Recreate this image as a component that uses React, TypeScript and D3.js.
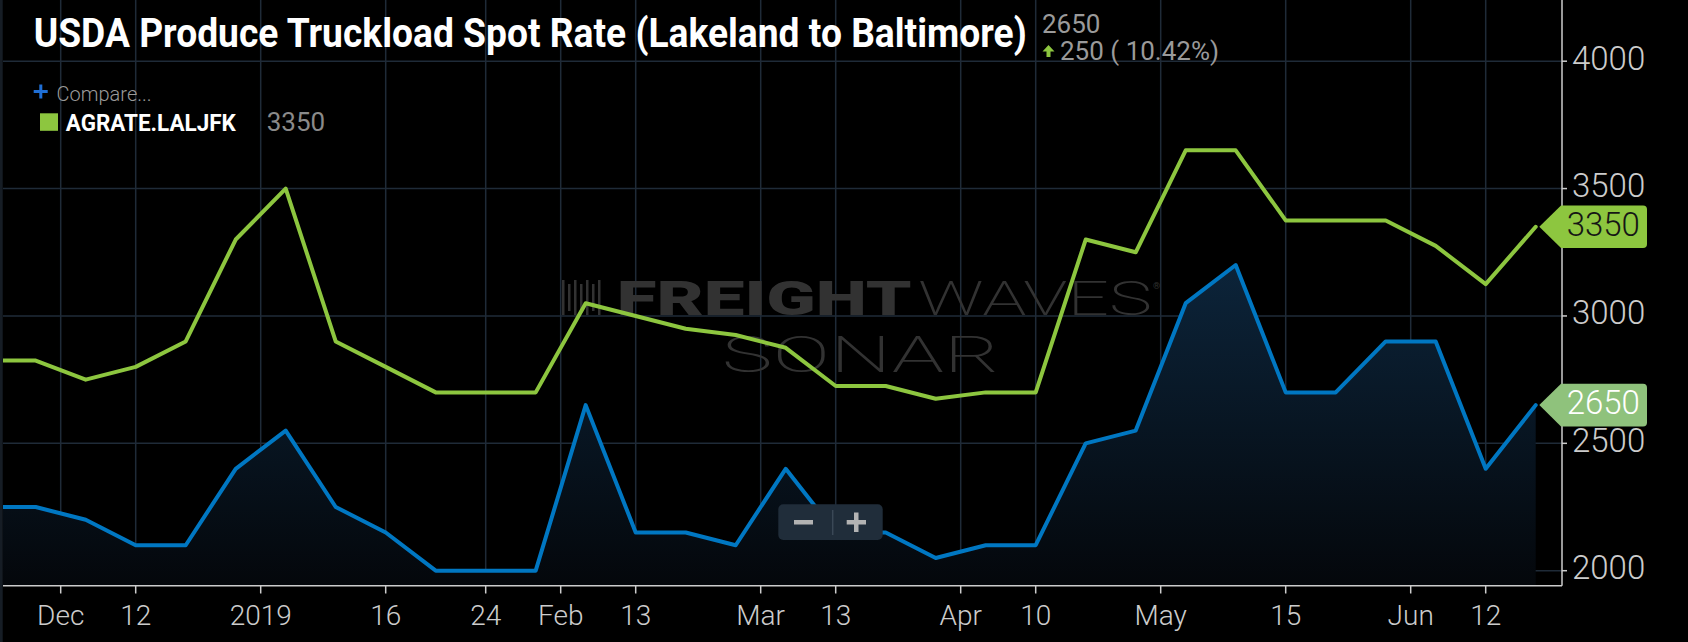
import React from 'react';
import * as d3 from 'd3';

// ---- data ----
const seriesName = 'AGRATE.LALJFK';
const titleText = 'USDA Produce Truckload Spot Rate (Lakeland to Baltimore)';
// weekly observations (first one is the previous observation, just off the left edge)
const greenValues = [2825, 2825, 2750, 2800, 2900, 3300, 3500, 2900, 2800, 2700, 2700, 2700, 3050, 3000, 2950, 2925, 2875, 2725, 2725, 2675, 2700, 2700, 3300, 3250, 3650, 3650, 3375, 3375, 3375, 3275, 3125, 3350];
const blueValues = [2250, 2250, 2200, 2100, 2100, 2400, 2550, 2250, 2150, 2000, 2000, 2000, 2650, 2150, 2150, 2100, 2400, 2150, 2150, 2050, 2100, 2100, 2500, 2550, 3050, 3200, 2700, 2700, 2900, 2900, 2400, 2650];
const xTickLabels = ['Dec', '12', '2019', '16', '24', 'Feb', '13', 'Mar', '13', 'Apr', '10', 'May', '15', 'Jun', '12'];
const xTickPositions = [1.5, 3, 5.5, 8, 10, 11.5, 13, 15.5, 17, 19.5, 21, 23.5, 26, 28.5, 30];
const yTicks = [2000, 2500, 3000, 3500, 4000];

// ---- layout ----
const W = 1688;
const H = 642;
const plotLeft = 3;
const plotRight = 1562;
const plotTop = 0;
const plotBottom = 585.7;

const GREEN = '#8dc63f';
const BLUE = '#0077c2';
const GRID = '#1f2b38';
const AXIS = '#cccccc';

export default function App() {
  const x = d3.scaleLinear().domain([0.346, 31.526]).range([plotLeft, plotRight]);
  const y = d3.scaleLinear().domain([2000, 4000]).range([570.7, 61.2]);

  const line = d3.line<number>().x((_, i) => x(i)).y((d) => y(d)).curve(d3.curveLinear);
  const area = d3.area<number>().x((_, i) => x(i)).y0(plotBottom).y1((d) => y(d));

  const lastGreen = greenValues[greenValues.length - 1];
  const lastBlue = blueValues[blueValues.length - 1];
  const prevBlue = blueValues[blueValues.length - 2];
  const change = lastBlue - prevBlue;
  const pct = ((change / prevBlue) * 100).toFixed(2);

  const flag = (yc: number) => {
    const tip = 1539.3;
    const l = 1561;
    const r = 1647;
    const h = 21.3;
    return `M${tip},${yc} L${l},${yc - h} H${r - 4} Q${r},${yc - h} ${r},${yc - h + 4} V${yc + h - 4} Q${r},${yc + h} ${r - 4},${yc + h} H${l} Z`;
  };

  const gTop = y(d3.max(blueValues) as number);
  const font = 'Roboto, "Noto Sans", sans-serif';

  return (
    <svg width={W} height={H} style={{ position: 'absolute', left: 0, top: 0, display: 'block' }} fontFamily={font}>
      <defs>
        <clipPath id="plotClip">
          <rect x={plotLeft} y={plotTop} width={plotRight - plotLeft} height={plotBottom - plotTop} />
        </clipPath>
        <linearGradient id="areaGrad" gradientUnits="userSpaceOnUse" x1={0} y1={gTop} x2={0} y2={plotBottom}>
          <stop offset="0" stopColor="rgb(12,36,58)" />
          <stop offset="1" stopColor="rgb(4,7,11)" />
        </linearGradient>
      </defs>
      <rect x={0} y={0} width={W} height={H} fill="#000" />
      <rect x={0} y={0} width={2.7} height={H} fill="#161d25" />

      {/* grid */}
      {yTicks.map((t) => (
        <line key={'hg' + t} x1={plotLeft} x2={plotRight} y1={y(t)} y2={y(t)} stroke={GRID} strokeWidth={1.5} />
      ))}
      {xTickPositions.map((p, i) => (
        <line key={'vg' + i} x1={x(p)} x2={x(p)} y1={plotTop} y2={plotBottom} stroke={GRID} strokeWidth={1.5} />
      ))}

      {/* watermark */}
      <g fill="#323232">
        {[0, 6, 12, 18, 24, 30, 36].map((dx, i) => (
          <rect key={'wm' + i} x={562 + dx} y={i % 2 === 0 ? 280 : 284} width={2.5} height={i % 2 === 0 ? 35 : 27} />
        ))}
        <text x={616.7} y={315} fontSize={49} fontWeight={900} textLength={295} lengthAdjust="spacingAndGlyphs">FREIGHT</text>
        <text x={918} y={315} fontSize={49} fontWeight={200} textLength={234} lengthAdjust="spacingAndGlyphs">WAVES</text>
        <text x={1153} y={289} fontSize={9}>®</text>
        <text x={721.7} y={372} fontSize={50} fontWeight={200} textLength={278} lengthAdjust="spacingAndGlyphs">SONAR</text>
      </g>

      {/* series */}
      <g clipPath="url(#plotClip)">
        <path d={area(blueValues) as string} fill="url(#areaGrad)" />
        <path d={line(blueValues) as string} fill="none" stroke={BLUE} strokeWidth={4} strokeLinejoin="round" strokeLinecap="round" />
        <path d={line(greenValues) as string} fill="none" stroke={GREEN} strokeWidth={4} strokeLinejoin="round" strokeLinecap="round" />
      </g>

      {/* x axis */}
      <line x1={plotLeft} x2={plotRight} y1={plotBottom} y2={plotBottom} stroke={AXIS} strokeWidth={1.5} />
      {xTickPositions.map((p, i) => (
        <g key={'xt' + i}>
          <line x1={x(p)} x2={x(p)} y1={plotBottom} y2={593.5} stroke={AXIS} strokeWidth={1.5} />
          <text x={x(p)} y={625} fontSize={28} fontWeight={300} fill={AXIS} textAnchor="middle">{xTickLabels[i]}</text>
        </g>
      ))}

      {/* y axis */}
      <line x1={plotRight} x2={plotRight} y1={plotTop} y2={plotBottom} stroke={AXIS} strokeWidth={1.5} />
      {yTicks.map((t) => (
        <g key={'yt' + t}>
          <line x1={plotRight} x2={plotRight + 5} y1={y(t)} y2={y(t)} stroke={AXIS} strokeWidth={1.5} />
          <text x={1572} y={y(t) + 8.5} fontSize={33} fontWeight={300} fill={AXIS}>{t}</text>
        </g>
      ))}

      {/* last value flags */}
      <path d={flag(y(lastGreen))} fill={GREEN} />
      <text x={1566.7} y={y(lastGreen) + 9.3} fontSize={33} fontWeight={300} fill="#151515">{lastGreen}</text>
      <path d={flag(y(lastBlue))} fill="#8fc27c" />
      <text x={1566.7} y={y(lastBlue) + 9.3} fontSize={33} fontWeight={300} fill="#ffffff">{lastBlue}</text>

      {/* zoom control */}
      <rect x={778.3} y={504.3} width={104.4} height={35.7} rx={5} fill="#202d3a" />
      <line x1={832.7} x2={832.7} y1={510} y2={535} stroke="#3a4856" strokeWidth={1.5} />
      <rect x={794} y={520} width={19} height={4.5} fill="#b3b3b3" />
      <rect x={846.7} y={520} width={19.3} height={4.5} fill="#b3b3b3" />
      <rect x={854} y={512.5} width={4.5} height={19.5} fill="#b3b3b3" />

      {/* title & header */}
      <text x={33.7} y={46.7} fontSize={40} fontWeight={700} fill="#ffffff" textLength={993} lengthAdjust="spacingAndGlyphs">{titleText}</text>
      <text x={1042} y={33.3} fontSize={26} fontWeight={400} fill="#9a9a9a">{lastBlue}</text>
      <path d="M1048.5,45 L1054.5,51.5 L1050.5,51.5 L1050.5,57 L1046.5,57 L1046.5,51.5 L1042.5,51.5 Z" fill={GREEN} />
      <text x={1060} y={59.5} fontSize={26} fontWeight={400} fill="#9a9a9a">{`${change} ( ${pct}%)`}</text>

      {/* legend */}
      <rect x={33.7} y={90} width={14} height={3} fill="#1f6fd6" />
      <rect x={39.3} y={84.5} width={3} height={14} fill="#1f6fd6" />
      <text x={56.6} y={100.5} fontSize={20} fontWeight={300} fill="#9a9a9a">Compare...</text>
      <rect x={40} y={113.3} width={18} height={17.5} fill={GREEN} />
      <text x={65.8} y={130.7} fontSize={24} fontWeight={700} fill="#ffffff" textLength={170} lengthAdjust="spacingAndGlyphs">{seriesName}</text>
      <text x={266.7} y={131} fontSize={26} fontWeight={400} fill="#8a8a8a">{lastGreen}</text>
    </svg>
  );
}
